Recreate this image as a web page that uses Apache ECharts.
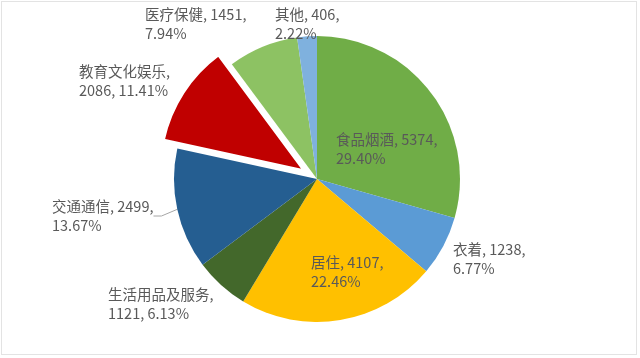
<!DOCTYPE html>
<html><head><meta charset="utf-8">
<script src="https://cdn.jsdelivr.net/npm/echarts@6/dist/echarts.min.js"></script>
<style>
html,body{margin:0;padding:0;background:#fff;}
#c{position:absolute;left:0;top:0;width:640px;height:358px;}
#b{position:absolute;left:1px;top:1px;width:634px;height:352px;border:1px solid #e3e3e3;pointer-events:none;}
</style></head>
<body><div id="c"></div><div id="b"></div>
<script>
const categories = ['食品烟酒','衣着','居住','生活用品及服务','交通通信','教育文化娱乐','医疗保健','其他'];
const values = [5374, 1238, 4107, 1121, 2499, 2086, 1451, 406];
const colors = ['#70AD47','#5B9BD5','#FFC000','#43682B','#255E91','#C00000','#8DC263','#7FB1DE'];
// label text layout: true = name on its own line
const nameOwnLine = [false,false,false,true,false,true,false,false];
const explodedIndex = 5;
// label anchor positions (top-left of text block)
const labelPos = [[336,130],[453,240],[311,253],[108,285],[52,197],[79,62],[145,5],[275,5]];

const total = values.reduce((a,b)=>a+b,0);
const CX = 317, CY = 179, R = 143, OFF = 16;
let cum = 0;
for (let i = 0; i < explodedIndex; i++) cum += values[i];
const midAng = (cum + values[explodedIndex]/2) / total * 2 * Math.PI;
const ex = CX + Math.sin(midAng) * OFF, ey = CY - Math.cos(midAng) * OFF;

const labelBase = {show:true, position:'outside', color:'#595959', fontSize:14.5, lineHeight:19,
  fontFamily:'"Noto Sans CJK SC","Microsoft YaHei",sans-serif', align:'left',
  formatter:function(p){
    const pct = (p.value/total*100).toFixed(2) + '%';
    return nameOwnLine[p.dataIndex] ? p.name + ',\n' + p.value + ', ' + pct
                                    : p.name + ', ' + p.value + ',\n' + pct;
  }};
const layoutFn = function(p){
  const pos = labelPos[p.dataIndex];
  return {x:pos[0], y:pos[1], align:'left', verticalAlign:'top', hideOverlap:false};
};
function makeData(mainSeries){
  return categories.map((n,i)=>{
    const visible = mainSeries ? i !== explodedIndex : i === explodedIndex;
    return {
      name:n, value:values[i],
      itemStyle: visible ? {color:colors[i], borderColor: i===explodedIndex ? '#fff' : 'rgba(255,255,255,0)', borderWidth: i===explodedIndex ? 2 : 0}
                         : {color:'rgba(0,0,0,0)', borderWidth:0},
      label: visible ? {} : {show:false},
      labelLine:{show: visible && i===4, length:6, length2:8, lineStyle:{color:'#a6a6a6', width:1}}
    };
  });
}
const chart = echarts.init(document.getElementById('c'), null, {renderer:'canvas'});
const common = {type:'pie', radius:[0,R], startAngle:90, clockwise:true, silent:true,
  label:labelBase, emphasis:{disabled:true}, labelLayout:layoutFn};
chart.setOption({
  animation:false,
  series:[
    Object.assign({}, common, {center:[CX,CY], data:makeData(true)}),
    Object.assign({}, common, {center:[ex,ey], data:makeData(false), z:3})
  ]
});
</script></body></html>
